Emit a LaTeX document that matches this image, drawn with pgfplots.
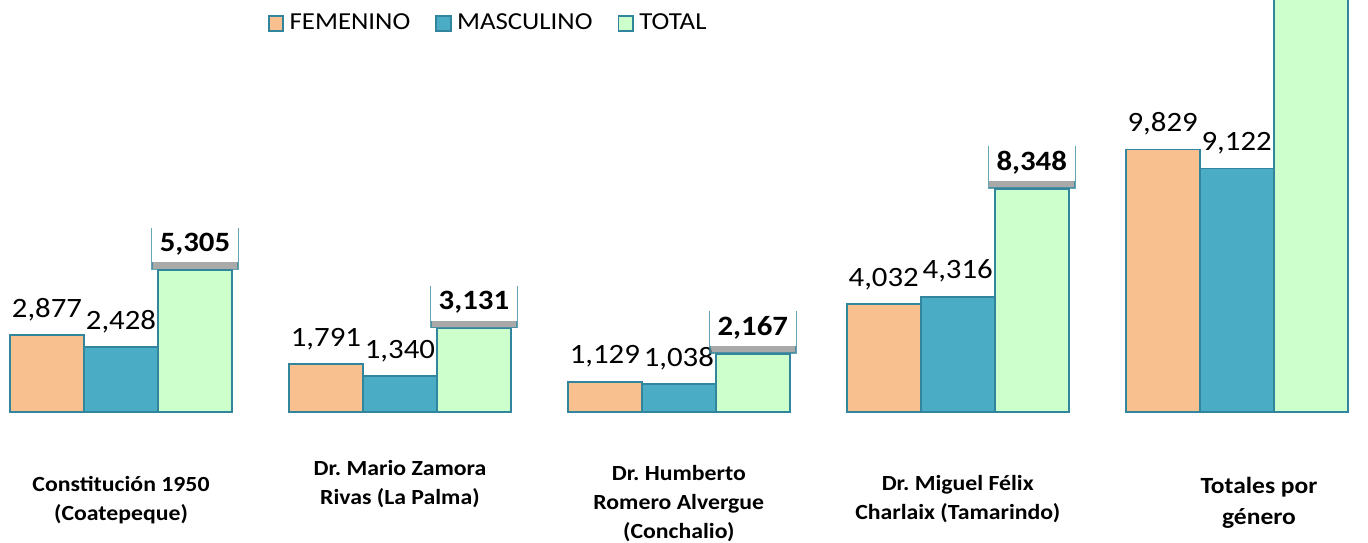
\documentclass[border=0pt]{standalone}
\usepackage{fontspec}
\setmainfont{Carlito}[FakeStretch=1.1]
\usepackage{pgfplots}
\pgfplotsset{compat=1.18}
\usetikzlibrary{shadows}

\definecolor{fem}{HTML}{F9C08F}
\definecolor{mas}{HTML}{4BACC6}
\definecolor{tot}{HTML}{CCFFCC}
\definecolor{edge}{HTML}{31859C}

\tikzset{catlab/.style={font=\bfseries\fontsize{10.8}{14.5}\selectfont, align=center, anchor=center}}

\begin{document}
\begin{tikzpicture}
\path[use as bounding box] (0,-65pt) rectangle (684pt,206pt);
\begin{axis}[
    at={(0,0)}, anchor=south west,
    scale only axis, width=684pt, height=206pt,
    xmin=-0.4338, xmax=4.471, ymin=0, ymax=15430,
    hide axis, clip mode=individual,
    ybar=0pt, bar width=37pt,
    legend style={at={(0.1955,0.943)}, anchor=west, draw=none, fill=none,
        font=\fontsize{12.2}{13}\selectfont, inner sep=0pt,
        /tikz/every even column/.append style={column sep=10.5pt}},
    legend columns=3,
    legend image code/.code={\draw[#1, line width=0.9pt] (0pt,-3.6pt) rectangle (7.2pt,3.6pt);
        \path (8pt,0pt);},
    lab/.style={nodes near coords,
        every node near coord/.append style={font=\fontsize{14}{16}\selectfont,
            anchor=base, yshift=9pt, inner sep=0pt, text=black,
            /pgf/number format/fixed, /pgf/number format/1000 sep={,},
            /pgf/number format/assume math mode=true}},
    totlab/.style={nodes near coords={\bfseries\pgfmathprintnumber{\pgfplotspointmeta}},
        every node near coord/.append style={font=\fontsize{14}{16}\selectfont,
            anchor=south, yshift=3.5pt, fill=white, text=black,
            inner xsep=4pt, inner ysep=5.5pt, text depth=0pt,
            drop shadow={shadow xshift=0pt, shadow yshift=-3.5pt, fill=black!45, opacity=0.75},
            /pgf/number format/fixed, /pgf/number format/1000 sep={,},
            /pgf/number format/assume math mode=true}},
]

% FEMENINO
\addplot[fill=fem, draw=edge, line width=0.9pt, bar shift=-37pt, lab] coordinates {
    (0,2877) (1,1791) (2,1129) (3,4032) (4,9829)
};
% MASCULINO
\addplot[fill=mas, draw=edge, line width=0.9pt, bar shift=0pt, lab] coordinates {
    (0,2428) (1,1340) (2,1038) (3,4316) (4,9122)
};
% TOTAL
\addplot[fill=tot, draw=edge, line width=0.9pt, bar shift=37pt, totlab] coordinates {
    (0,5305) (1,3131) (2,2167) (3,8348)
};
% total general (runs off the top)
\addplot[fill=tot, draw=edge, line width=0.9pt, bar shift=37pt, forget plot] coordinates {
    (4,18951)
};
\legend{FEMENINO, MASCULINO, TOTAL}

\node[catlab] at ([yshift=-44pt]axis cs:0,0) {Constitución 1950\\(Coatepeque)};
\node[catlab] at ([yshift=-36pt]axis cs:1,0) {Dr.\ Mario Zamora\\Rivas (La Palma)};
\node[catlab] at ([yshift=-46pt]axis cs:2,0) {Dr.\ Humberto\\Romero Alvergue\\(Conchalio)};
\node[catlab] at ([yshift=-43.5pt]axis cs:3,0) {Dr.\ Miguel Félix\\Charlaix (Tamarindo)};
\node[catlab, font=\bfseries\fontsize{11.6}{15.5}\selectfont] at ([yshift=-45.5pt]axis cs:4.08,0) {Totales por\\género};
\end{axis}
\end{tikzpicture}
\end{document}
